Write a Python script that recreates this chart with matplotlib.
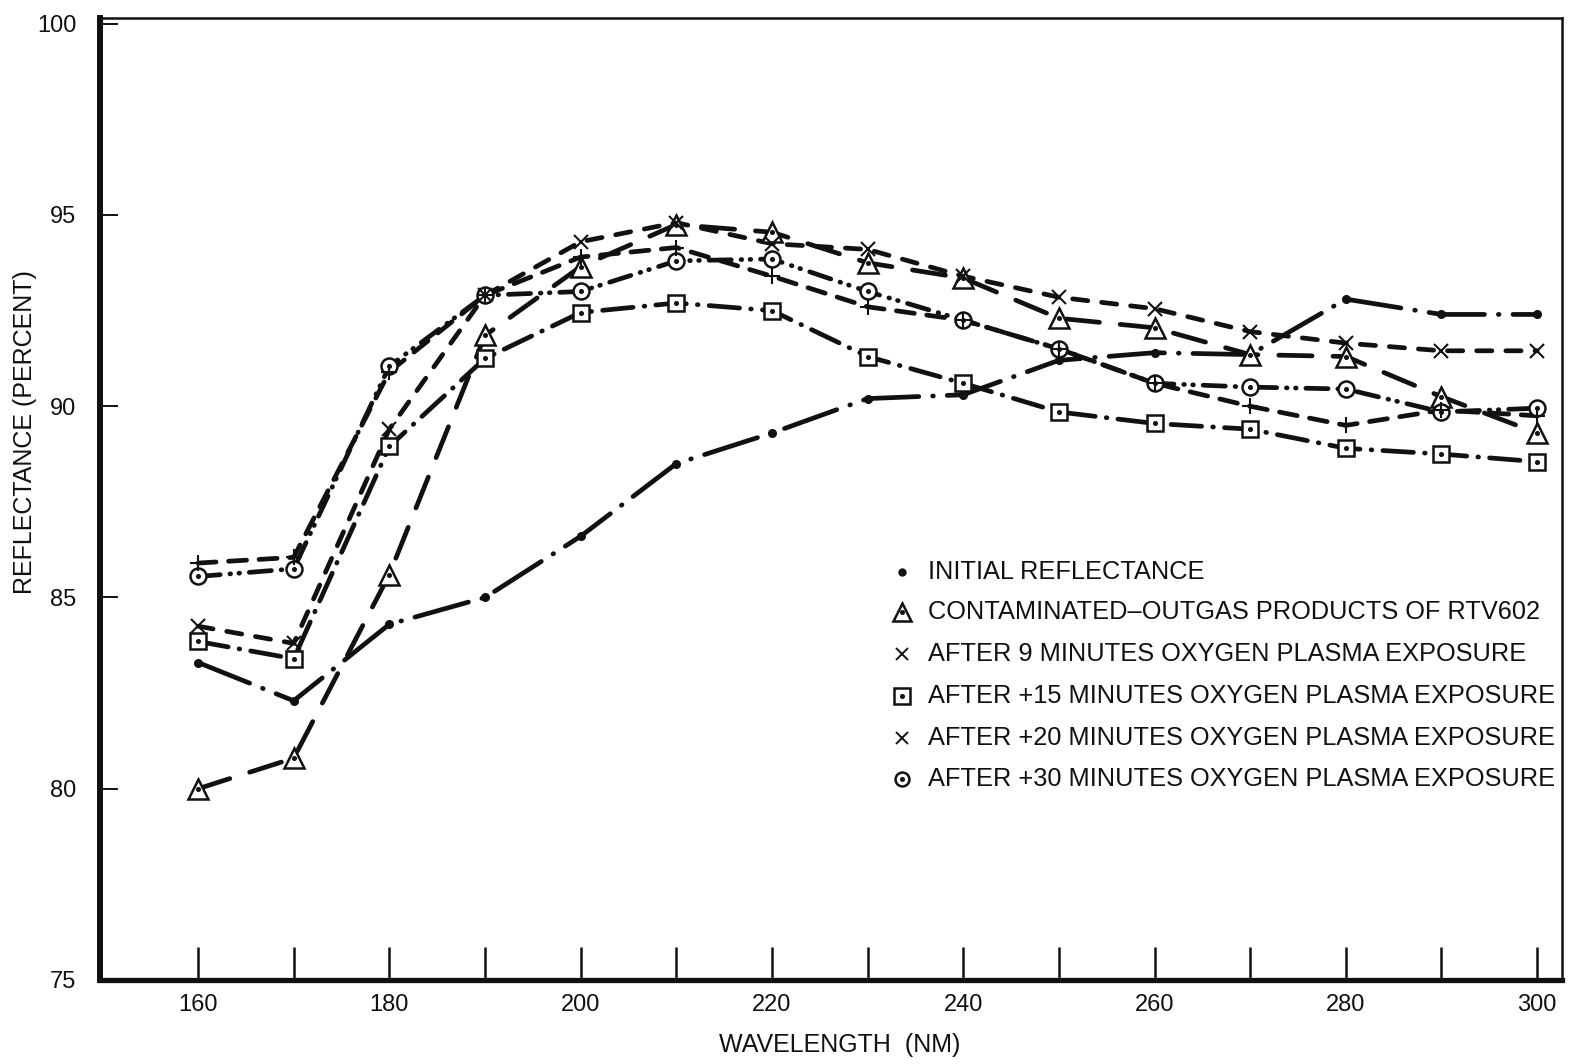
import matplotlib
matplotlib.use("Agg")
import matplotlib.pyplot as plt

plt.rcParams['font.family'] = ['Liberation Sans Narrow', 'Liberation Sans', 'DejaVu Sans']
plt.rcParams['lines.scale_dashes'] = False
REGULAR = ['Liberation Sans', 'DejaVu Sans']

# Wavelength grid (nm)
wavelength = [160, 170, 180, 190, 200, 210, 220, 230, 240, 250, 260, 270, 280, 290, 300]

# Reflectance (percent) per sample condition
initial = [83.3, 82.3, 84.3, 85.0, 86.6, 88.5, 89.3, 90.2, 90.3, 91.2, 91.4, 91.35, 92.8, 92.4, 92.4]
contaminated = [80.0, 80.8, 85.6, 91.85, 93.65, 94.75, 94.55, 93.75, 93.35, 92.3, 92.05, 91.35, 91.3, 90.25, 89.3]
after_9 = [84.25, 83.8, 89.4, 92.9, 94.3, 94.8, 94.25, 94.1, 93.4, 92.85, 92.55, 91.95, 91.65, 91.45, 91.45]
after_15 = [83.85, 83.4, 88.95, 91.25, 92.45, 92.7, 92.5, 91.3, 90.6, 89.85, 89.55, 89.4, 88.9, 88.75, 88.55]
after_20 = [85.9, 86.05, 90.9, 92.9, 93.9, 94.15, 93.4, 92.6, 92.25, 91.5, 90.6, 90.0, 89.5, 89.9, 89.75]
after_30 = [85.55, 85.75, 91.05, 92.9, 93.0, 93.8, 93.85, 93.0, 92.25, 91.5, 90.6, 90.5, 90.45, 89.85, 89.95]

legend_labels = [
    "INITIAL REFLECTANCE",
    "CONTAMINATED\u2013OUTGAS PRODUCTS OF RTV602",
    "AFTER 9 MINUTES OXYGEN PLASMA EXPOSURE",
    "AFTER +15 MINUTES OXYGEN PLASMA EXPOSURE",
    "AFTER +20 MINUTES OXYGEN PLASMA EXPOSURE",
    "AFTER +30 MINUTES OXYGEN PLASMA EXPOSURE",
]

x_major = [160, 180, 200, 220, 240, 260, 280, 300]
x_minor = [170, 190, 210, 230, 250, 270, 290]
y_ticks = [75, 80, 85, 90, 95, 100]

INK = "#111111"
W, H = 1572, 1064
fig = plt.figure(figsize=(W / 100, H / 100), dpi=100)
ax_l, ax_r, ax_t, ax_b = 100, 1562, 18, 980
ax = fig.add_axes([ax_l / W, 1 - ax_b / H, (ax_r - ax_l) / W, (ax_b - ax_t) / H])
ax.set_xlim(149.75, 302.6)
ax.set_ylim(75, 100.15)

LW = 3.4
line_kw = dict(color=INK, lw=LW, dash_capstyle='round', solid_capstyle='round', zorder=2)

ax.plot(wavelength, initial, dashes=(40, 10, 0.5, 10), **line_kw)
ax.plot(wavelength, contaminated, dashes=(24, 15), **line_kw)
ax.plot(wavelength, after_9, dashes=(11, 10), **line_kw)
ax.plot(wavelength, after_15, dashes=(22, 8, 0.5, 8), **line_kw)
ax.plot(wavelength, after_20, dashes=(13, 9), **line_kw)
ax.plot(wavelength, after_30, dashes=(16, 7, 0.5, 6, 0.5, 7), **line_kw)


def dotted_open(axis, xs, ys, marker, ms, **kw):
    axis.plot(xs, ys, ls='none', marker=marker, ms=ms, mfc='white', mec=INK,
              mew=1.8, zorder=4, **kw)
    axis.plot(xs, ys, ls='none', marker='o', ms=2.6, mfc=INK, mec=INK, zorder=5, **kw)


# Point markers
ax.plot(wavelength, initial, ls='none', marker='o', ms=5.5, color=INK, zorder=4)
dotted_open(ax, wavelength, contaminated, '^', 15)
dotted_open(ax, wavelength, after_15, 's', 12)
dotted_open(ax, wavelength, after_30, 'o', 11.5)
ax.plot(wavelength, after_9, ls='none', marker='x', ms=10, mew=1.5, color=INK, zorder=6)
ax.plot(wavelength, after_20, ls='none', marker='+', ms=12, mew=1.5, color=INK, zorder=6)

# Axes frame
for side, lw in (('left', 4.3), ('bottom', 3.8), ('top', 1.8), ('right', 1.8)):
    ax.spines[side].set_linewidth(lw)
    ax.spines[side].set_color(INK)

ax.set_xticks(x_major)
ax.set_xticks(x_minor, minor=True)
ax.set_xticklabels([str(v) for v in x_major], family=REGULAR)
ax.tick_params(axis='x', which='both', direction='in', length=24, width=1.8,
               colors=INK, labelsize=17, pad=10)
ax.set_yticks(y_ticks)
ax.set_yticklabels([str(v) for v in y_ticks], family=REGULAR)
ax.tick_params(axis='y', which='major', direction='in', length=13, width=1.4,
               colors=INK, labelsize=17, pad=17)

# Axis titles
fig.text(840 / W, 1 - 1045 / H, "WAVELENGTH  (NM)", fontsize=18, color=INK,
         ha='center', va='center')
fig.text(25 / W, 1 - 432 / H, "REFLECTANCE (PERCENT)", fontsize=18, color=INK,
         ha='center', va='center', rotation=90)


# Legend drawn as symbols plus text rows
def ax_frac(px, py):
    return (px - ax_l) / (ax_r - ax_l), (ax_b - py) / (ax_b - ax_t)


rows_y = [572, 612, 654, 696, 738, 779]
sym_x = 902
text_x = 928
T = ax.transAxes
for i, (label, py) in enumerate(zip(legend_labels, rows_y)):
    sx, sy = ax_frac(sym_x, py)
    if i == 0:
        ax.plot([sx], [sy], marker='o', ms=5, color=INK, transform=T, clip_on=False)
    elif i == 1:
        dotted_open(ax, [sx], [sy], '^', 13, transform=T, clip_on=False)
    elif i == 2:
        ax.plot([sx], [sy], marker='x', ms=9, mew=1.4, color=INK, transform=T, clip_on=False)
    elif i == 3:
        dotted_open(ax, [sx], [sy], 's', 11, transform=T, clip_on=False)
    elif i == 4:
        ax.plot([sx], [sy], marker='x', ms=8, mew=1.4, color=INK, transform=T, clip_on=False)
    else:
        dotted_open(ax, [sx], [sy], 'o', 10, transform=T, clip_on=False)
    tx, ty = ax_frac(text_x, py)
    ax.text(tx, ty, label, transform=T, fontsize=18.3, color=INK, va='center', ha='left')

fig.savefig("out.png", dpi=100, facecolor='white')
